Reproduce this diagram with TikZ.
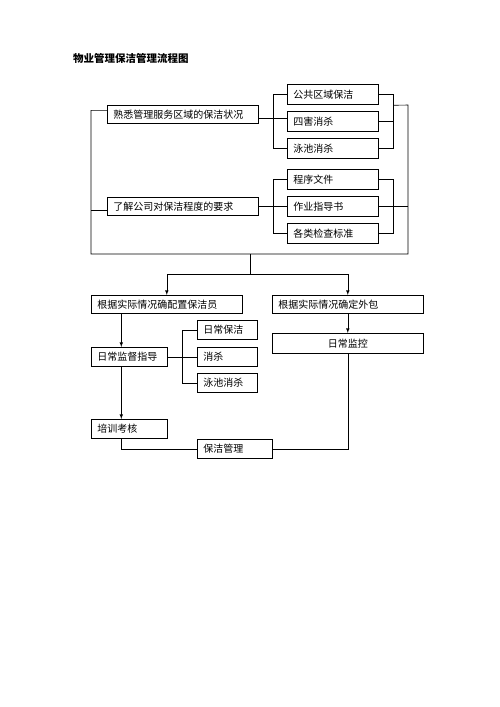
\documentclass[tikz,border=0pt]{standalone}
\usepackage{fontspec}
\setmainfont{Noto Sans CJK SC}
\usetikzlibrary{shadows}

\begin{document}
\begin{tikzpicture}[x=1pt,y=-1pt]
    \tikzstyle{box}=[draw=black,line width=0.6pt,fill=white,anchor=north west,inner xsep=6pt,inner ysep=0pt,align=left,font=\fontsize{10}{12}\selectfont,drop shadow={shadow xshift=0.7pt,shadow yshift=-0.7pt,fill=black,opacity=1}]
    \tikzstyle{line}=[line width=0.6pt]
    \tikzstyle{arr}=[line width=0.6pt,-latex]
    \useasboundingbox (0,0) rectangle (500,707);
    \node (title)[anchor=west,inner sep=0pt,font=\fontsize{10.5}{12}\selectfont\bfseries] at (73,58) {物业管理保洁管理流程图};
    % upper part
    \node (a)[box,text width=139pt,minimum height=18pt] at (107,105) {熟悉管理服务区域的保洁状况};
    \node (a1)[box,text width=79pt,minimum height=20pt] at (287,84) {公共区域保洁};
    \node (a2)[box,text width=79pt,minimum height=20pt] at (287,111) {四害消杀};
    \node (a3)[box,text width=79pt,minimum height=20pt] at (287,138) {泳池消杀};
    \node (b)[box,text width=139pt,minimum height=18pt] at (107,197) {了解公司对保洁程度的要求};
    \node (b1)[box,text width=79pt,minimum height=20pt] at (287,169) {程序文件};
    \node (b2)[box,text width=79pt,minimum height=20pt] at (287,196) {作业指导书};
    \node (b3)[box,text width=79pt,minimum height=20pt] at (287,223) {各类检查标准};
    \coordinate (bl) at (91,254);
    \coordinate (br) at (408,254);
    \coordinate (tr) at (408,105);
    \coordinate (mid) at (250,254);
    \draw[line] (a1.west) -- ++(-14,0) coordinate (la) |- (a3.west);
    \draw[line] ([yshift=-4pt]a.east) -- ([yshift=-4pt]a.east -| a2.west);
    \draw[line] (a1.east) -- ++(15,0) coordinate (ra) |- (a3.east);
    \draw[line] (a2.east) -- (ra |- a2.east);
    \draw[line] (b1.west) -- ++(-14,0) coordinate (lb) |- (b3.west);
    \draw[line] (b.east) -- (b2.west);
    \draw[line] (b1.east) -- ++(15,0) coordinate (rb) |- (b3.east);
    \draw[line] (b2.east) -- (b2.east -| br);
    \draw[line] ([yshift=4pt]a.west) -| (bl) -- (br) -- (tr) -- ([yshift=-11pt]ra);
    \draw[line] ([yshift=-4pt]b.west) -- ([yshift=-4pt]b.west -| bl);
    % lower part
    \node (c)[box,text width=139pt,minimum height=18pt] at (91,295) {根据实际情况确配置保洁员};
    \node (d)[box,text width=139pt,minimum height=18pt] at (272,295) {根据实际情况确定外包};
    \node (e)[box,text width=139pt,minimum height=20pt,align=center] at (272,333) {日常监控};
    \node (f)[box,text width=64pt,minimum height=19pt] at (91,347) {日常监督指导};
    \node (c1)[box,text width=48pt,minimum height=19pt] at (197,320) {日常保洁};
    \node (c2)[box,text width=48pt,minimum height=19pt] at (197,347) {消杀};
    \node (c3)[box,text width=48pt,minimum height=19pt] at (197,373) {泳池消杀};
    \node (g)[box,text width=64pt,minimum height=19pt] at (91,419) {培训考核};
    \node (h)[box,text width=63pt,minimum height=19pt] at (197,439) {保洁管理};
    \draw[line] (mid) -- ++(0,20) coordinate (split);
    \draw[arr] (split) -| (c.north);
    \draw[arr] (split) -| (d.north);
    \draw[arr] (d.south) -- (e.north);
    \draw[arr] ([xshift=-8pt]f.north |- c.south) -- ([xshift=-8pt]f.north);
    \draw[line] (c1.west) -- ++(-15,0) coordinate (lc) |- (c3.west);
    \draw[line] (f.east) -- (c2.west);
    \draw[arr] ([xshift=-8pt]f.south) -- ([xshift=-8pt]g.north);
    \draw[line] ([xshift=-8pt]g.south) |- (h.west);
    \draw[line] (e.south) |- (h.east);
\end{tikzpicture}
\end{document}
